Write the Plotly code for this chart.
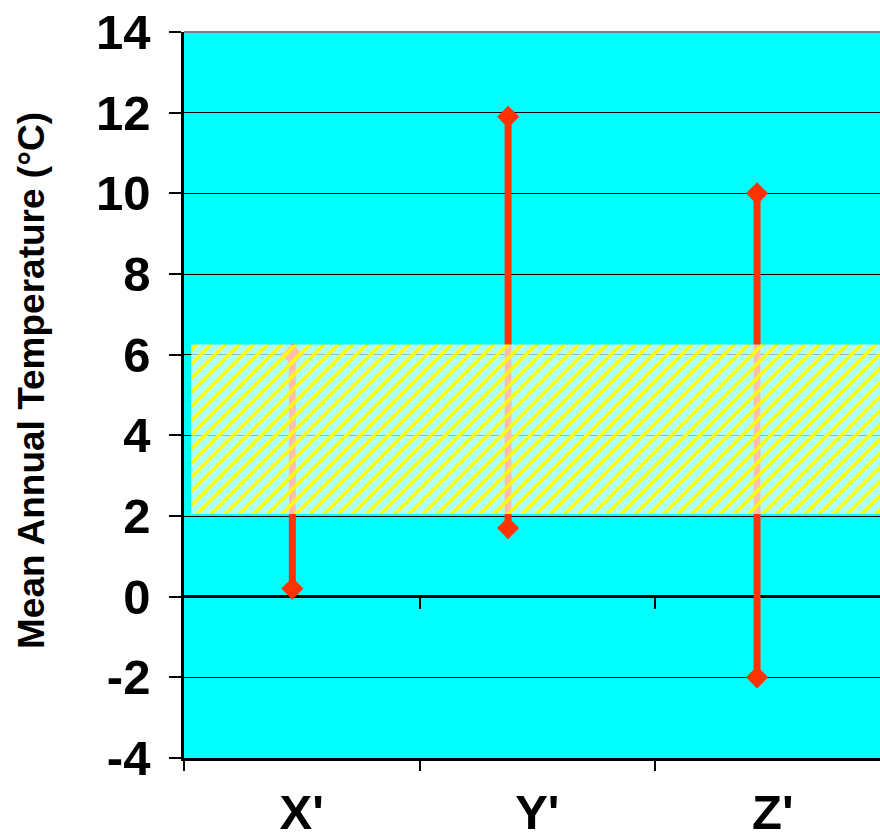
import plotly.graph_objects as go

categories = ["X'", "Y'", "Z'"]
cat_pos = [0, 1, 2]
x_pos = [-0.04, 0.876, 1.933]
low_vals = [0.2, 1.7, -2.0]
high_vals = [6.0, 11.9, 10.0]
band_low = 2.05
band_high = 6.25
band_x = [-0.47, 2.6]
y_ticks = [-4, -2, 0, 2, 4, 6, 8, 10, 12, 14]
y_tick_text = ["-4", "-2", "0", "2", "4", "6", "8", "10", "12", "14"]

RED = "#FF3300"
FONT = "Arial, Liberation Sans, sans-serif"

fig = go.Figure()

# range lines
for xp, lo, hi in zip(x_pos, low_vals, high_vals):
    fig.add_trace(go.Scatter(
        x=[xp, xp], y=[lo, hi], mode="lines+markers",
        line=dict(color=RED, width=7),
        marker=dict(symbol="diamond", size=17, color=RED),
        showlegend=False, hoverinfo="skip"))

# hatched band
fig.add_trace(go.Scatter(
    x=[band_x[0], band_x[1], band_x[1], band_x[0], band_x[0]],
    y=[band_low, band_low, band_high, band_high, band_low],
    mode="lines", line=dict(width=0), fill="toself",
    fillcolor="rgba(255,255,255,0)",
    fillpattern=dict(shape="/", fgcolor="#FFFF00", bgcolor="rgba(255,255,255,0.68)",
                     size=10, solidity=0.35, fgopacity=1),
    showlegend=False, hoverinfo="skip"))

# dummy traces for helper axes
for ax in ["x2", "x3", "x4"]:
    fig.add_trace(go.Scatter(x=[0], y=[0], xaxis=ax, mode="markers",
                             marker=dict(opacity=0), showlegend=False, hoverinfo="skip"))

xr = [-0.5, 2.455]
boundaries = [c - 0.5 for c in cat_pos] + [cat_pos[-1] + 0.5]

fig.update_layout(
    width=880, height=838,
    margin=dict(l=184, r=0, t=32, b=80, autoexpand=False),
    paper_bgcolor="white", plot_bgcolor="#00FFFF",
    font=dict(family=FONT, color="black"),
    xaxis=dict(range=xr, tickvals=cat_pos, ticktext=categories, ticks="",
               showgrid=False, zeroline=False, showline=True, linecolor="black",
               linewidth=2.5, tickfont=dict(size=49, weight="bold", family=FONT),
               ticklabelstandoff=9, automargin=False),
    xaxis2=dict(range=xr, overlaying="x", anchor="y", side="bottom",
                tickvals=boundaries, ticks="outside", ticklen=12, tickwidth=2,
                tickcolor="black", showticklabels=False, showgrid=False,
                zeroline=False, showline=False, automargin=False),
    xaxis3=dict(range=xr, overlaying="x", anchor="free", position=4/18, side="bottom",
                tickvals=boundaries[1:], ticks="outside", ticklen=11, tickwidth=2,
                tickcolor="black", showticklabels=False, showgrid=False,
                zeroline=False, showline=False, automargin=False),
    xaxis4=dict(range=xr, overlaying="x", anchor="free", position=1, side="top",
                ticks="", showticklabels=False, showgrid=False, zeroline=False,
                showline=True, linecolor="#808080", linewidth=2, automargin=False),
    yaxis=dict(range=[-4, 14], tickvals=y_ticks, ticktext=y_tick_text,
               ticks="outside", ticklen=12,
               tickwidth=2, tickcolor="black", showgrid=True, gridcolor="black",
               gridwidth=1.3, zeroline=True, zerolinecolor="black", zerolinewidth=2.5,
               showline=True, linecolor="black", linewidth=2.5,
               tickfont=dict(size=49, weight="bold", family=FONT),
               ticklabelstandoff=9, automargin=False),
    annotations=[dict(text="Mean Annual Temperature (°C)", textangle=-90,
                      xref="paper", yref="paper",
                      x=(31 - 184) / 696, y=(758 - 381) / 726,
                      xanchor="center", yanchor="middle", showarrow=False,
                      font=dict(size=37, weight="bold", family=FONT))],
)

fig.write_html(
    "out.html",
    config={"displayModeBar": False},
    post_script="document.body.style.margin='0';document.body.style.overflow='hidden';",
)
